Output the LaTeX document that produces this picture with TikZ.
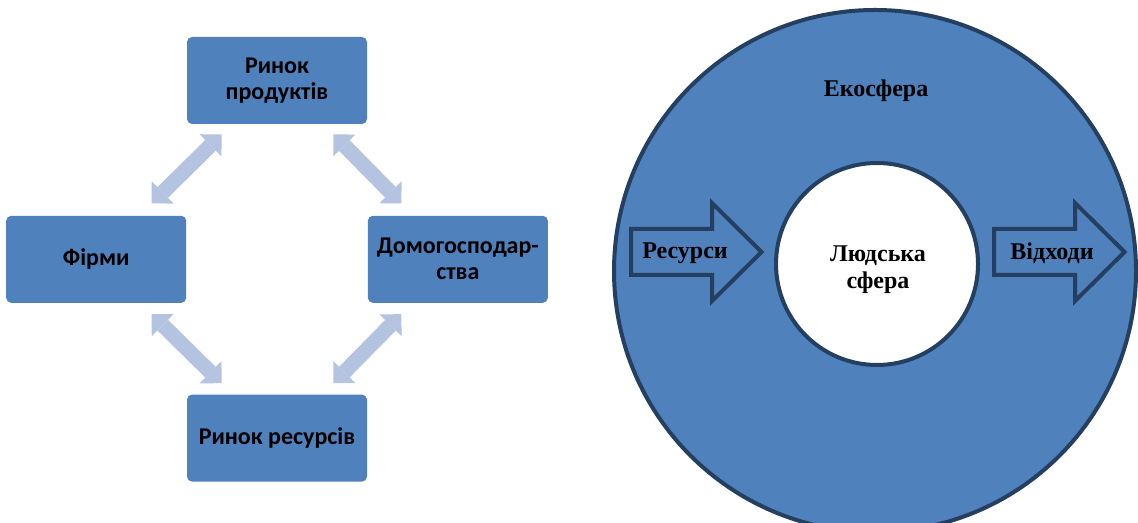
\documentclass[tikz,border=0pt]{standalone}
\usepackage{xcolor}
\usepackage{fontspec}
\usepackage{tikz}
\usetikzlibrary{positioning,shapes,arrows.meta}
\setmainfont{Liberation Serif}
\newfontfamily\boxfont{Carlito}
\definecolor{boxblue}{HTML}{4F81BD}
\definecolor{rimblue}{HTML}{243F60}
\definecolor{paleblue}{HTML}{B4C3DF}

\begin{document}
\begin{tikzpicture}[x=0.5pt, y=0.5pt]

    % Define styles
    \tikzstyle{market} = [rectangle, fill=boxblue, minimum width=90pt, minimum height=43.5pt, rounded corners=2.5pt, align=center, font=\boxfont\bfseries\fontsize{12pt}{13pt}\selectfont]
    \tikzstyle{sphere} = [circle, draw=rimblue, line width=2pt, inner sep=0pt]
    \tikzstyle{spheretext} = [align=center, font=\bfseries\fontsize{12pt}{13.5pt}\selectfont]
    \tikzstyle{bigarrow} = [draw=rimblue, fill=boxblue, line width=2pt]
    \tikzstyle{flow} = [draw=paleblue, line width=7.5pt, {Triangle[length=7.8pt, width=15.6pt, line width=0pt]}-{Triangle[length=7.8pt, width=15.6pt, line width=0pt]}]

    \useasboundingbox (0,0) rectangle (1138,523);

    % Market circle
    \node [market] at (277,442.5) (prod) {Ринок\\продуктів};
    \node [market, below left=45.5pt and 0pt of prod] (firms) {Фірми};
    \node [market, below right=45.5pt and 0pt of prod] (house) {Домогосподар-\\ства};
    \node [market, below right=45.5pt and 0pt of firms] (res_market) {Ринок ресурсів};

    % Flows
    \draw [flow] ([shift={(35,-10)}]prod.south west) -- ([shift={(-35,12)}]firms.north east);
    \draw [flow] ([shift={(-34,-10)}]prod.south east) -- ([shift={(34,12)}]house.north west);
    \draw [flow] ([shift={(-35,-11)}]firms.south east) -- ([shift={(35,11)}]res_market.north west);
    \draw [flow] ([shift={(34,-11)}]house.south west) -- ([shift={(-34,11)}]res_market.north east);

    % Spheres
    \node [sphere, fill=boxblue, minimum size=261pt] at (875,252) (eco) {};
    \node [sphere, fill=white, minimum size=101pt] at (877,259) (human) {};
    \node [spheretext] at (878,253) (human_text) {Людська\\сфера};
    \node [spheretext] at (876,432) (eco_text) {Екосфера};

    % In and out
    \draw [bigarrow] (631,248) -- (712,248) -- (712,222) -- (761.5,271) -- (712,320) -- (712,294) -- (631,294) -- cycle;
    \draw [bigarrow] (994,248) -- (1075,248) -- (1075,222) -- (1124.5,271) -- (1075,320) -- (1075,294) -- (994,294) -- cycle;
    \node [spheretext] at (685,270) (inflow) {Ресурси};
    \node [spheretext] at (1052,270) (outflow) {Відходи};

\end{tikzpicture}
\end{document}
